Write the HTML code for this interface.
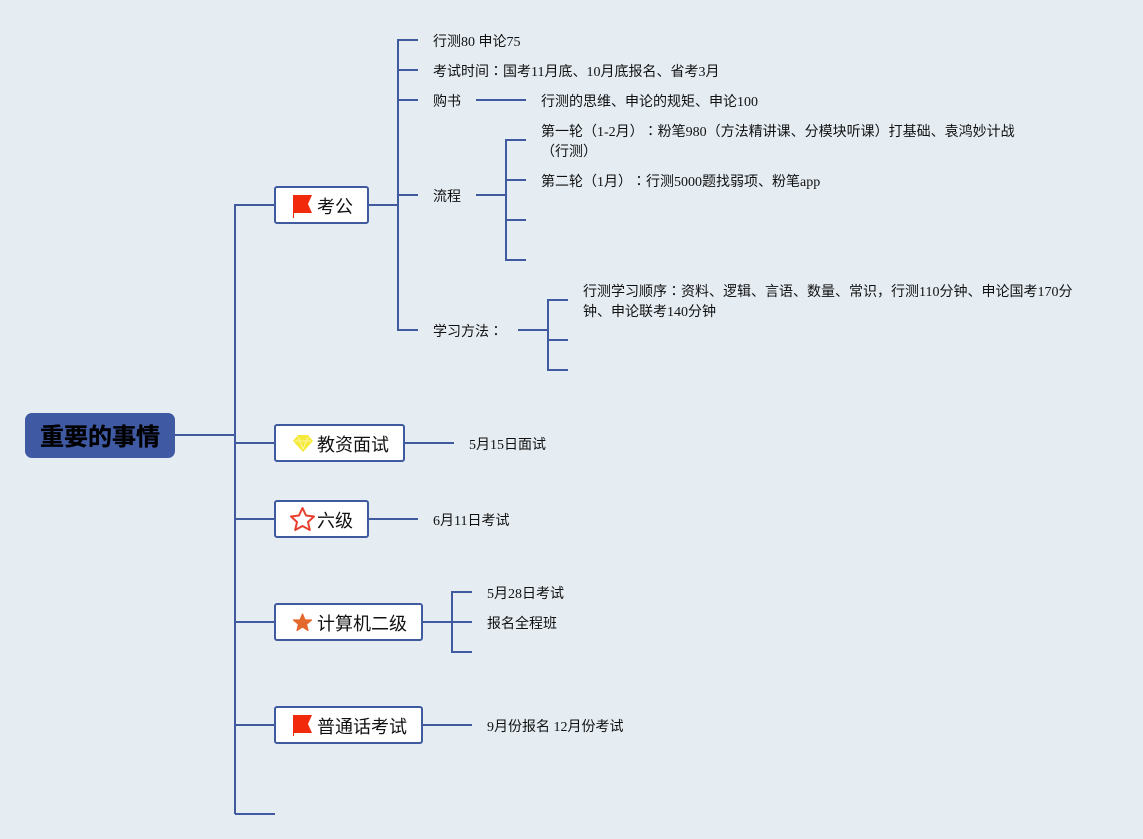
<!DOCTYPE html>
<html><head><meta charset="utf-8">
<style>
html,body{margin:0;padding:0;width:1143px;height:839px;overflow:hidden;background:#e5edf3}
body{position:relative;font-family:"Liberation Serif","WenQuanYi Zen Hei","Noto Sans CJK SC",sans-serif;color:#111;text-spacing-trim:space-all}
svg{position:absolute;left:0;top:0}
.t{position:absolute;font-size:14px;line-height:20px;white-space:nowrap}
.t i{font-style:normal;font-family:"Noto Sans CJK TC",sans-serif;line-height:0}
.n{position:absolute;font-size:18px;line-height:22px;white-space:nowrap;color:#111}
.r{position:absolute;left:40px;top:423px;font-size:24px;line-height:30px;font-weight:bold;color:#000;font-family:"Liberation Sans","Noto Sans CJK SC",sans-serif;white-space:nowrap;-webkit-text-stroke:.3px #000}
</style></head><body>
<svg width="1143" height="839" viewBox="0 0 1143 839">
<g fill="none" stroke="#3f5a9e" stroke-width="2">
<path d="M175 435H235M235 814V205H275M235 443H275M235 519H275M235 622H275M235 725H275M235 814H275"/>
<path d="M368 205H398M418 40H398V330H418M398 70H418M398 100H418M398 195H418M476 100H526"/>
<path d="M476 195H506M526 140H506V260H526M506 180H526M506 220H526"/>
<path d="M518 330H548M568 300H548V370H568M548 340H568"/>
<path d="M404 443H454M368 519H418M422 622H472M472 592H452V652H472M422 725H472"/>
</g>
<rect x="25" y="413" width="150" height="45" rx="7" fill="#4059a3"/>
<g fill="#fff" stroke="#3f5a9e" stroke-width="2">
<rect x="275" y="187" width="93" height="36" rx="2"/>
<rect x="275" y="425" width="129" height="36" rx="2"/>
<rect x="275" y="501" width="93" height="36" rx="2"/>
<rect x="275" y="604" width="147" height="36" rx="2"/>
<rect x="275" y="707" width="147" height="36" rx="2"/>
</g>
<path d="M293 195H312L308 204L312 213H294V218H293Z" fill="#f3290c"/>
<path d="M293 715H312L308 724L312 733H294V736H293Z" fill="#f3290c"/>
<path d="M298 435H308L313 441L303 452L293 441Z" fill="#f5ea3a"/>
<path d="M298 437L303 449L308 437M295 441H311" fill="none" stroke="#fbf6a0" stroke-width="1"/>
<path d="M302.500 508L306 515.500L314 516.500L308 522L309.800 530L302.500 526L295.200 530L297 522L291 516.500L299 515.500Z" fill="#fff" stroke="#e8402e" stroke-width="2" stroke-linejoin="round"/>
<path d="M302.500 614L305 620H311.500L306.500 624.300L308 630.500L302.500 627L297 630.500L298.500 624.300L293.500 620H300Z" fill="#e4682c" stroke="#e4682c" stroke-width="1.200" stroke-linejoin="round"/>
</svg>
<div class="r">重要的事情</div>
<div class="n" style="left:317px;top:196px">考公</div>
<div class="n" style="left:317px;top:434px">教资面试</div>
<div class="n" style="left:317px;top:510px">六级</div>
<div class="n" style="left:317px;top:613px">计算机二级</div>
<div class="n" style="left:317px;top:716px">普通话考试</div>
<div class="t" style="left:433px;top:33px">行测80 申论75</div>
<div class="t" style="left:433px;top:63px">考试时间<i>：</i>国考11月底、10月底报名、省考3月</div>
<div class="t" style="left:433px;top:93px">购书</div>
<div class="t" style="left:541px;top:93px">行测的思维、申论的规矩、申论100</div>
<div class="t" style="left:541px;top:123px">第一轮（1-2月）<i>：</i>粉笔980（方法精讲课、分模块听课）打基础、袁鸿妙计战<br>（行测）</div>
<div class="t" style="left:541px;top:173px">第二轮（1月）<i>：</i>行测5000题找弱项、粉笔app</div>
<div class="t" style="left:433px;top:188px">流程</div>
<div class="t" style="left:583px;top:283px">行测学习顺序<i>：</i>资料、逻辑、言语、数量、常识，行测110分钟、申论国考170分<br>钟、申论联考140分钟</div>
<div class="t" style="left:433px;top:323px">学习方法<i>：</i></div>
<div class="t" style="left:469px;top:436px">5月15日面试</div>
<div class="t" style="left:433px;top:512px">6月11日考试</div>
<div class="t" style="left:487px;top:585px">5月28日考试</div>
<div class="t" style="left:487px;top:615px">报名全程班</div>
<div class="t" style="left:487px;top:718px">9月份报名 12月份考试</div>
</body></html>
